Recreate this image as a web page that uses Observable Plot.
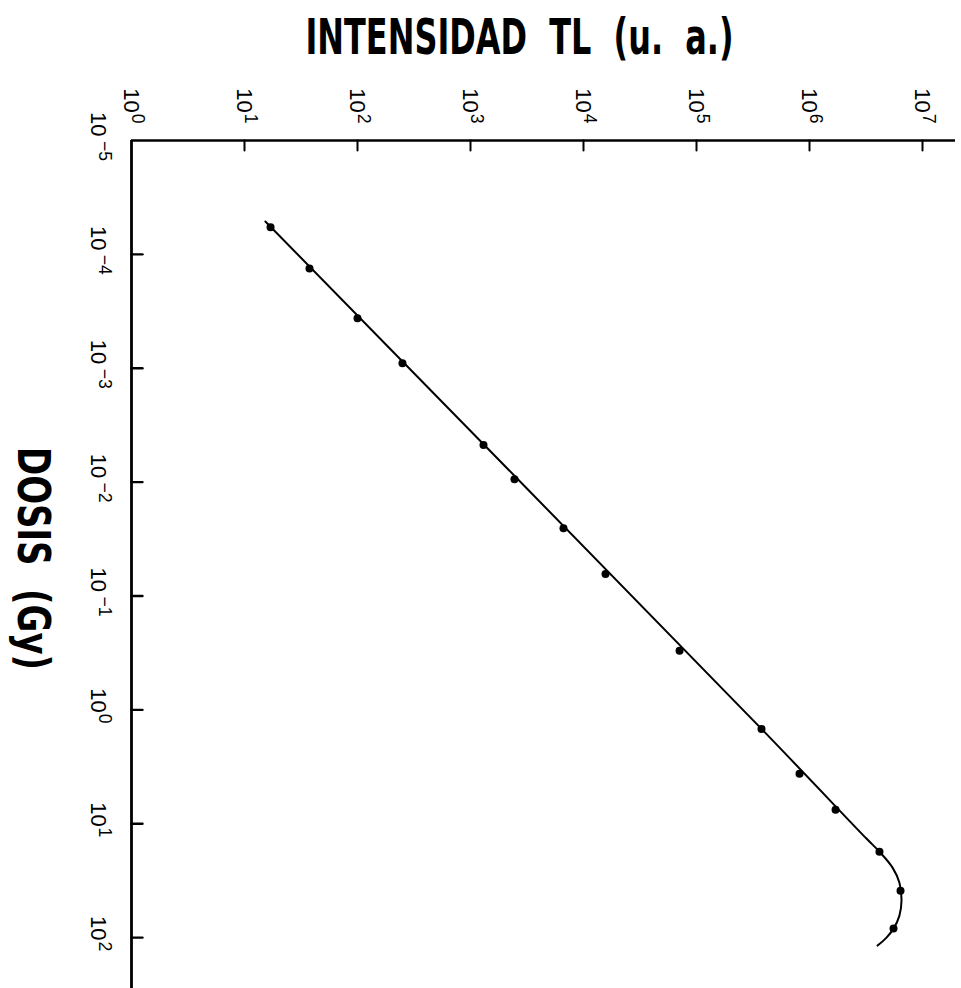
<!DOCTYPE html>
<html>
<head>
<meta charset="utf-8">
<script src="https://cdn.jsdelivr.net/npm/d3@7"></script>
<script src="https://cdn.jsdelivr.net/npm/@observablehq/plot@0.6"></script>
<style>
  html, body { margin: 0; padding: 0; background: white; }
</style>
</head>
<body>
<div id="chart"></div>
<script>
// ---- Data ----
const titleText = "INTENSIDAD\u00a0\u00a0TL\u00a0\u00a0(u.\u00a0\u00a0a.)";
const doseLabelText = "DOSIS\u00a0\u00a0(Gy)";

const intensityTicks = [1, 10, 100, 1e3, 1e4, 1e5, 1e6, 1e7];
const doseTicks = [1e-5, 1e-4, 1e-3, 1e-2, 1e-1, 1, 10, 100];

// measured points: TL intensity (a.u.) vs dose (Gy)
const pointIntensity = [17.0, 37.6, 100, 250, 1303, 2450, 6650, 15660, 70800, 376000, 816000, 1.70e6, 4.16e6, 6.39e6, 5.54e6];
const pointDose = [5.79e-5, 1.33e-4, 3.64e-4, 9.04e-4, 4.73e-3, 9.42e-3, 0.0254, 0.0641, 0.303, 1.47, 3.64, 7.54, 17.6, 38.7, 83.4];

// fitted curve nodes
const curveIntensity = [15.3, 376000, 3.19e6, 4.16e6, 5.43e6, 6.25e6, 6.52e6, 6.25e6, 5.54e6, 4.80e6, 4.00e6];
const curveDose = [5.14e-5, 1.47, 13.5, 17.6, 24.3, 33.0, 47.3, 64.1, 83.4, 100, 117.5];

const points = pointIntensity.map((v, i) => ({intensity: v, dose: pointDose[i]}));
const curve = curveIntensity.map((v, i) => ({intensity: v, dose: curveDose[i]}));

const supLabel = d => "10^" + Math.round(Math.log10(d));
const tickShape = {draw(ctx, l) { ctx.moveTo(0, 0); ctx.lineTo(0, l); }};

const chart = Plot.plot({
  width: 961,
  height: 988,
  marginTop: 140,
  marginLeft: 131,
  marginRight: 6,
  marginBottom: 0,
  x: {type: "log", domain: [1, Math.pow(10, 7.292)], axis: null},
  y: {type: "log", domain: [1e-5, Math.pow(10, 2.447)], reverse: true, axis: null},
  style: {background: "white", color: "black", fontFamily: "'Liberation Sans', Arial, sans-serif"},
  marks: [
    // axis lines
    Plot.ruleY([1e-5], {stroke: "black", strokeWidth: 2.6}),
    Plot.ruleX([1], {stroke: "black", strokeWidth: 2.8}),
    // inward ticks
    Plot.vector(intensityTicks.slice(1), {x: d => d, frameAnchor: "top", length: 10, rotate: 0, anchor: "start", shape: tickShape, stroke: "black", strokeWidth: 2}),
    Plot.vector(doseTicks.slice(1), {y: d => d, frameAnchor: "left", length: 11, rotate: -90, anchor: "start", shape: tickShape, stroke: "black", strokeWidth: 2.4}),
    // tick labels (rotated)
    Plot.text(intensityTicks, {x: d => d, frameAnchor: "top", dy: -17, rotate: 90, textAnchor: "end", lineAnchor: "middle", text: supLabel, fontSize: 22, fill: "black"}),
    Plot.text(doseTicks, {y: d => d, frameAnchor: "left", dx: -33, dy: -4, rotate: 90, textAnchor: "middle", lineAnchor: "middle", text: supLabel, fontSize: 22, fill: "black"}),
    // fitted curve and points
    Plot.line(curve, {x: "intensity", y: "dose", curve: "catmull-rom", stroke: "black", strokeWidth: 2}),
    Plot.dot(points, {x: "intensity", y: "dose", r: 4, fill: "black", stroke: "none"}),
    // titles
    Plot.text([titleText], {frameAnchor: "top", text: d => d, dx: -24, dy: -87, lineAnchor: "bottom", textAnchor: "middle", fontSize: 50, fontWeight: "bold", fontFamily: "'DejaVu Sans Condensed', 'Liberation Sans Narrow', 'DejaVu Sans', sans-serif", fill: "black"}),
    Plot.text([doseLabelText], {frameAnchor: "left", text: d => d, dx: -99, dy: -6, rotate: 90, lineAnchor: "middle", textAnchor: "middle", fontSize: 44, fontWeight: "bold", fontFamily: "'DejaVu Sans Condensed', 'Liberation Sans Narrow', 'DejaVu Sans', sans-serif", fill: "black"})
  ]
});

// post-process: superscripts and title widths
d3.select(chart).selectAll("text").each(function() {
  const t = this.textContent;
  const m = /^10\^(.+)$/.exec(t);
  if (m) {
    const neg = m[1].startsWith("-");
    const el = d3.select(this);
    el.text(null);
    el.append("tspan").text("10");
    el.append("tspan").attr("dx", neg ? "0.25em" : "0.05em").attr("dy", "-0.4em").attr("font-size", "0.8em").text(m[1].replace("-", "\u2212"));
  } else if (t === titleText) {
    d3.select(this).style("font-stretch", "condensed").attr("textLength", 428).attr("lengthAdjust", "spacingAndGlyphs");
  } else if (t === doseLabelText) {
    d3.select(this).style("font-stretch", "condensed").attr("textLength", 223).attr("lengthAdjust", "spacingAndGlyphs");
  }
});

document.getElementById("chart").appendChild(chart);
</script>
</body>
</html>
